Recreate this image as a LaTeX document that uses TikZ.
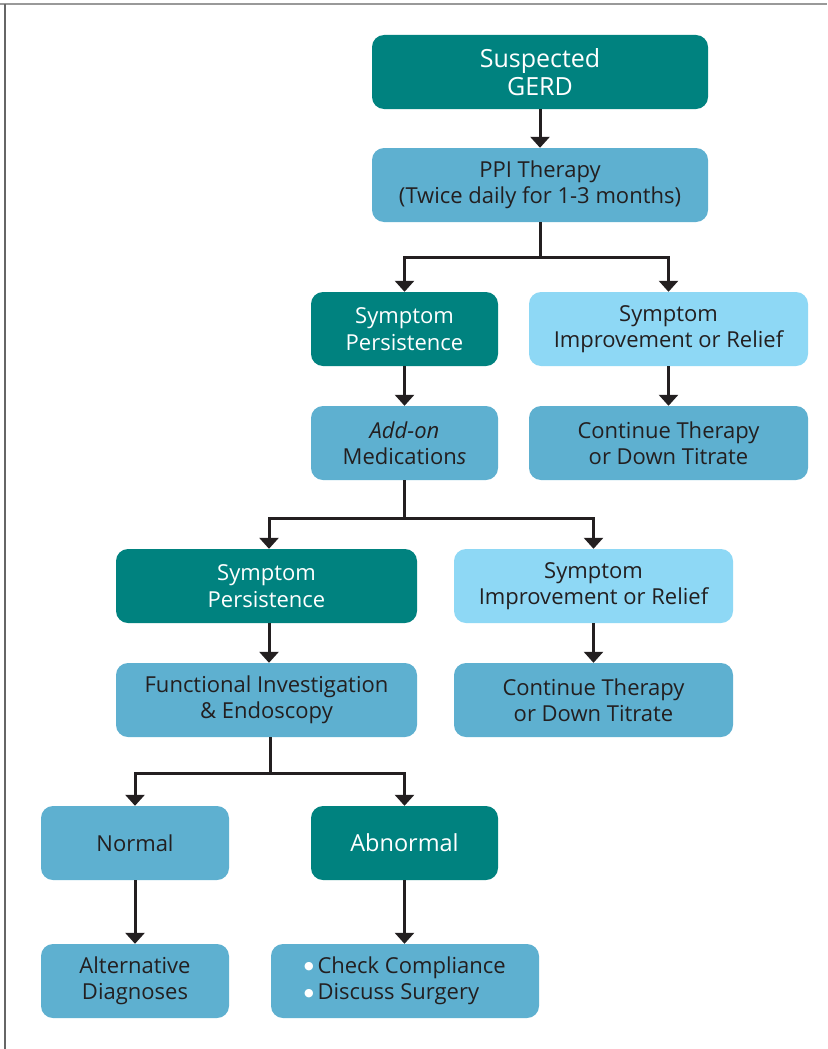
\documentclass[tikz,border=0pt]{standalone}
\usepackage{fontspec}
\setmainfont{Open Sans}
\newfontfamily\dejavu{DejaVu Sans}
\usetikzlibrary{arrows.meta}
\definecolor{teal1}{HTML}{00827F}
\definecolor{blue1}{HTML}{5EB0D0}
\definecolor{blue2}{HTML}{8ED8F5}
\definecolor{txt}{HTML}{231F20}
\newcommand{\wbul}{\raisebox{3.5pt}{\color{white}\dejavu\fontsize{11}{11}\selectfont ●}}
\begin{document}
\begin{tikzpicture}[x=1pt,y=-1pt,
  box/.style={rounded corners=12pt, minimum height=74pt, align=center, inner sep=0pt,
     font=\fontsize{22}{26.5}\selectfont},
  dark/.style={box, fill=teal1, text=white},
  mid/.style={box, fill=blue1, text=txt},
  light/.style={box, fill=blue2, text=txt},
  conn/.style={line width=3pt, draw=txt},
  arr/.style={conn, -{Triangle[width=19pt,length=11pt]}}]
\useasboundingbox (0,0) rectangle (827,1049);
\fill[white] (0,0) rectangle (827,1049);
\draw[line width=2pt, color=black!40] (0,4) -- (827,4);
\draw[line width=2pt, color=black!60] (5,4) -- (5,1049);

\node[dark, minimum width=336pt, font=\fontsize{25}{27.5}\selectfont] (gerd) at (540,72) {Suspected\\GERD};
\node[mid, minimum width=336pt] (ppi) at (540,185) {PPI Therapy\\(Twice daily for 1-3 months)};
\node[dark, minimum width=187pt] (sp1) at (404.5,329) {Symptom\\Persistence};
\node[light, minimum width=279pt] (si1) at (668.5,329) {Symptom\\Improvement or Relief};
\node[mid, minimum width=187pt] (add) at (404.5,443) {\itshape Add-on\\Medication\itshape s};
\node[mid, minimum width=279pt] (ct1) at (668.5,443) {Continue Therapy\\or Down Titrate};
\node[dark, minimum width=301pt] (sp2) at (266.5,586) {Symptom\\Persistence};
\node[light, minimum width=279pt] (si2) at (593.5,586) {Symptom\\Improvement or Relief};
\node[mid, minimum width=301pt] (fi) at (266.5,700) {Functional Investigation\\\& Endoscopy};
\node[mid, minimum width=279pt] (ct2) at (593.5,700) {Continue Therapy\\or Down Titrate};
\node[mid, minimum width=188pt] (nor) at (135,843) {Normal};
\node[dark, minimum width=187pt, font=\fontsize{23.5}{26.5}\selectfont] (abn) at (404.5,843) {Abnormal};
\node[mid, minimum width=188pt] (alt) at (135,981) {Alternative\\Diagnoses};
\node[mid, minimum width=268pt, align=left] (chk) at (405,981) {\wbul\,Check Compliance\\\wbul\,Discuss Surgery};

\coordinate (j1) at (540,257);
\coordinate (j2) at (404.5,518);
\coordinate (j3) at (270,773);

\draw[arr] (gerd.south) -- (ppi.north);
\draw[conn] (ppi.south) -- (j1);
\draw[arr] (j1) -| (sp1.north);
\draw[arr] (j1) -| (si1.north);
\draw[arr] (sp1.south) -- (add.north);
\draw[arr] (si1.south) -- (ct1.north);
\draw[conn] (add.south) -- (j2);
\draw[arr] (j2) -| ([xshift=2.5pt]sp2.north);
\draw[arr] (j2) -| (si2.north);
\draw[arr] ([xshift=2.5pt]sp2.south) -- ([xshift=2.5pt]fi.north);
\draw[arr] (si2.south) -- (ct2.north);
\draw[conn] ([xshift=3.5pt]fi.south) -- (j3);
\draw[arr] (j3) -| (nor.north);
\draw[arr] (j3) -| (abn.north);
\draw[arr] (nor.south) -- (alt.north);
\draw[arr] (abn.south) -- (abn.south |- chk.north);
\end{tikzpicture}
\end{document}
